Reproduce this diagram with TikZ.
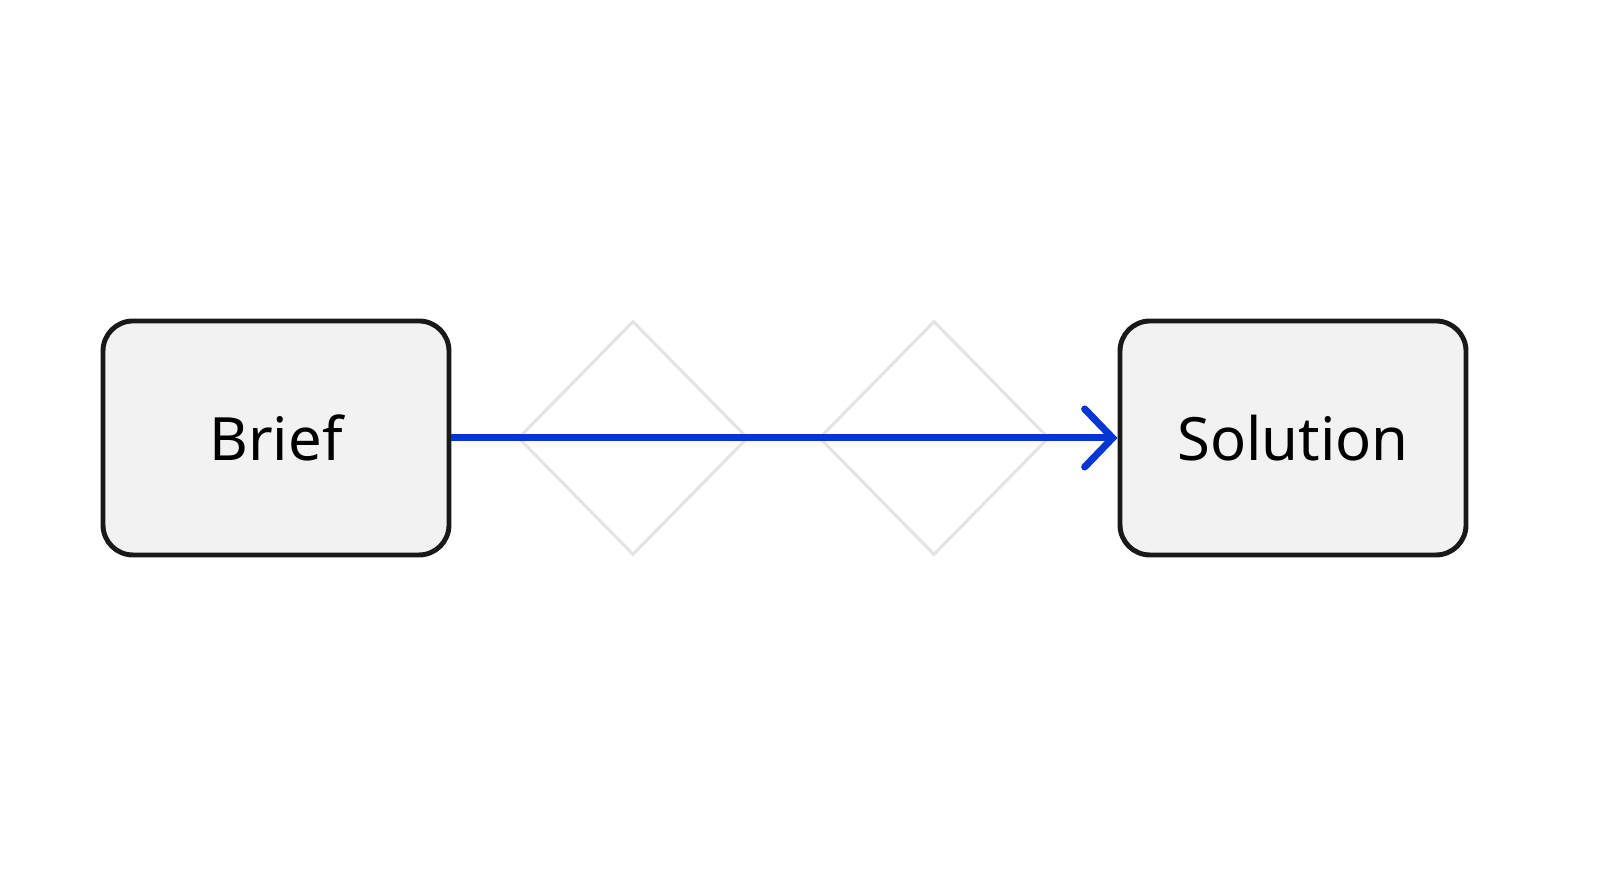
\documentclass[tikz,border=0pt]{standalone}
\usepackage{fontspec}
\setmainfont{Noto Sans}
\usetikzlibrary{arrows.meta,shapes.geometric}
\definecolor{boxfill}{HTML}{F2F2F2}
\definecolor{ghost}{HTML}{E4E4E4}
\definecolor{flowblue}{HTML}{0436D4}
\tikzset{
    stage/.style={draw=black!90,line width=1.4pt,fill=boxfill,rounded corners=0.3cm,
        minimum width=3.46cm,minimum height=2.34cm,font=\fontsize{17}{20}\selectfont},
    ghostdiamond/.style={diamond,draw=ghost,line width=0.9pt,inner sep=0pt,
        minimum width=2.3cm,minimum height=2.34cm},
    flow/.style={draw=flowblue,line width=2pt,-{Straight Barb[length=0.28cm,width=0.58cm,line cap=round]}}
}
\begin{document}
\begin{tikzpicture}
	\useasboundingbox (0,0) rectangle (16,8.93);

	\node[ghostdiamond] (D1) at (6.33,4.55) {};
	\node[ghostdiamond] (D2) at (9.34,4.55) {};

	\node[stage] (brief) at (2.76,4.55) {Brief};
	\node[stage] (solution) at (12.93,4.55) {Solution};

	\draw[flow] (brief.east)--(solution.west);
\end{tikzpicture}
\end{document}
